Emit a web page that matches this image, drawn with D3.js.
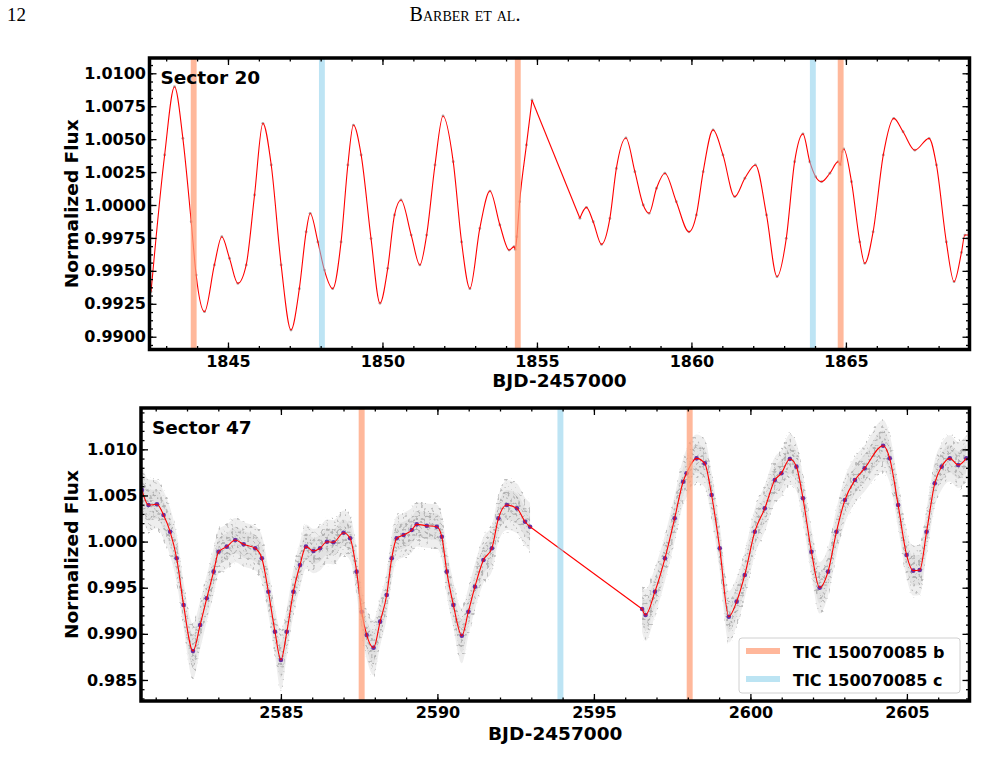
<!DOCTYPE html>
<html>
<head>
<meta charset="utf-8">
<script src="https://cdn.jsdelivr.net/npm/d3@7"></script>
<style>
  body { margin: 0; background: #fff; }
  svg { display: block; font-family: "DejaVu Sans", sans-serif; }
  .tick text { font-family: "DejaVu Sans", sans-serif; font-weight: bold; font-size: 16px; fill: #000; }
  .tick line { stroke: #000; stroke-width: 1.3; }
</style>
</head>
<body>
<div id="chart"></div>
<script>
// Sector 20 smoothed model (knots)
const s20Day = [1842.51, 1842.95, 1843.27, 1843.54, 1843.81, 1843.97, 1844.24, 1844.56, 1844.80, 1845.05,
    1845.32, 1845.59, 1845.86, 1846.13, 1846.40, 1846.72, 1847.04, 1847.31, 1847.53, 1847.66,
    1847.91, 1848.12, 1848.39, 1848.66, 1848.88, 1849.06, 1849.31, 1849.63, 1849.92, 1850.17,
    1850.39, 1850.60, 1850.93, 1851.21, 1851.43, 1851.70, 1851.96, 1852.29, 1852.56, 1852.83,
    1853.15, 1853.48, 1853.80, 1854.10, 1854.26, 1854.30, 1854.35, 1854.44, 1854.66, 1854.84,
    1856.39, 1856.60, 1856.82, 1857.09, 1857.36, 1857.57, 1857.88, 1858.17, 1858.44, 1858.63,
    1858.87, 1859.14, 1859.51, 1859.92, 1860.16, 1860.38, 1860.70, 1861.02, 1861.40, 1861.73,
    1862.07, 1862.43, 1862.77, 1863.07, 1863.34, 1863.61, 1863.83, 1864.02, 1864.21, 1864.48,
    1864.75, 1864.82, 1864.88, 1864.93, 1865.18, 1865.45, 1865.61, 1865.88, 1866.21, 1866.55,
    1866.85, 1867.23, 1867.69, 1867.93, 1868.25, 1868.50, 1868.74, 1868.85, 1869.06];
const s20Flux = [0.99342, 1.00380, 1.00898, 1.00506, 0.99873, 0.99468, 0.99190, 0.99545, 0.99759, 0.99595,
    0.99405, 0.99545, 1.00076, 1.00620, 1.00304, 0.99545, 0.99051, 0.99365, 0.99796, 0.99937,
    0.99720, 0.99506, 0.99365, 0.99720, 1.00304, 1.00607, 1.00380, 0.99745, 0.99254, 0.99519,
    0.99925, 1.00038, 0.99772, 0.99545, 0.99772, 1.00304, 1.00676, 1.00329, 0.99720, 0.99365,
    0.99822, 1.00106, 0.99848, 0.99658, 0.99684, 0.99663, 0.99759, 1.00025, 1.00456, 1.00797,
    0.99899, 0.99982, 0.99873, 0.99701, 0.99898, 1.00278, 1.00509, 1.00253, 1.00000, 0.99937,
    1.00127, 1.00241, 1.00025, 0.99796, 0.99925, 1.00253, 1.00570, 1.00380, 1.00063, 1.00203,
    1.00304, 0.99925, 0.99456, 0.99747, 1.00329, 1.00540, 1.00329, 1.00215, 1.00177, 1.00241,
    1.00329, 1.00304, 1.00405, 1.00425, 1.00177, 0.99720, 0.99557, 0.99796, 1.00380, 1.00658,
    1.00556, 1.00416, 1.00506, 1.00304, 0.99720, 0.99418, 0.99640, 0.99772, 0.99772];

// Sector 47 smoothed model, and half-width of the grey point cloud around it
const s47Day = [2580.56, 2580.77, 2581.04, 2581.25, 2581.46, 2581.67, 2581.89, 2582.19, 2582.42, 2582.63,
    2582.85, 2583.01, 2583.27, 2583.54, 2583.81, 2584.18, 2584.39, 2584.60, 2584.81, 2585.00,
    2585.19, 2585.40, 2585.61, 2585.80, 2586.04, 2586.25, 2586.47, 2586.68, 2587.00, 2587.21,
    2587.42, 2587.58, 2587.74, 2587.96, 2588.17, 2588.38, 2588.54, 2588.70, 2588.92, 2589.18,
    2589.34, 2589.66, 2589.98, 2590.14, 2590.30, 2590.51, 2590.78, 2590.99, 2591.20, 2591.47,
    2591.74, 2591.95, 2592.22, 2592.54, 2592.80, 2592.96,
    2596.54, 2596.65, 2596.95, 2597.27, 2597.58, 2597.85, 2597.96, 2598.28, 2598.54, 2598.76,
    2599.02, 2599.31, 2599.56, 2599.82, 2600.14, 2600.46, 2600.78, 2600.99, 2601.26, 2601.47,
    2601.68, 2601.95, 2602.21, 2602.48, 2602.75, 2603.02, 2603.34, 2603.65, 2604.24, 2604.45,
    2604.72, 2604.99, 2605.20, 2605.41, 2605.63, 2605.89, 2606.11, 2606.37, 2606.64, 2606.90];
const s47Flux = [1.00559, 1.00396, 1.00404, 1.00288, 1.00107, 0.99819, 0.99313, 0.98814, 0.99096, 0.99385,
    0.99674, 0.99890, 0.99945, 1.00017, 0.99970, 0.99927, 0.99819, 0.99457, 0.99023, 0.98717,
    0.99023, 0.99457, 0.99746, 0.99945, 0.99898, 0.99927, 0.99999, 0.99992, 1.00096, 1.00036,
    0.99674, 0.99240, 0.98988, 0.98850, 0.99132, 0.99421, 0.99819, 1.00036, 1.00071, 1.00125,
    1.00187, 1.00172, 1.00161, 1.00053, 0.99674, 0.99313, 0.98980, 0.99240, 0.99511, 0.99800,
    0.99927, 1.00252, 1.00396, 1.00360, 1.00215, 1.00161,
    0.99269, 0.99204, 0.99457, 0.99819, 1.00252, 1.00649, 1.00740, 1.00902, 1.00848, 1.00505,
    0.99927, 0.99186, 0.99349, 0.99638, 1.00107, 1.00360, 1.00667, 1.00740, 1.00895, 1.00812,
    1.00469, 0.99890, 0.99500, 0.99674, 1.00107, 1.00451, 1.00667, 1.00794, 1.01039, 1.00902,
    1.00396, 0.99855, 0.99685, 0.99692, 1.00107, 1.00632, 1.00812, 1.00902, 1.00830, 1.00902];
const s47Spread = [0.0028, 0.0028, 0.0026, 0.0026, 0.0026, 0.0026, 0.0025, 0.0030, 0.0026, 0.0025,
    0.0025, 0.0024, 0.0024, 0.0024, 0.0024, 0.0024, 0.0025, 0.0025, 0.0026, 0.0032,
    0.0026, 0.0025, 0.0025, 0.0024, 0.0024, 0.0024, 0.0024, 0.0024, 0.0024, 0.0024,
    0.0025, 0.0025, 0.0026, 0.0030, 0.0026, 0.0025, 0.0025, 0.0024, 0.0024, 0.0024,
    0.0024, 0.0024, 0.0024, 0.0024, 0.0025, 0.0025, 0.0030, 0.0026, 0.0025, 0.0025,
    0.0025, 0.0025, 0.0027, 0.0027, 0.0026, 0.0026,
    0.0025, 0.0028, 0.0026, 0.0025, 0.0025, 0.0025, 0.0026, 0.0026, 0.0026, 0.0025,
    0.0025, 0.0028, 0.0026, 0.0025, 0.0025, 0.0025, 0.0025, 0.0025, 0.0027, 0.0026,
    0.0025, 0.0025, 0.0028, 0.0026, 0.0025, 0.0025, 0.0025, 0.0025, 0.0028, 0.0026,
    0.0025, 0.0025, 0.0027, 0.0027, 0.0025, 0.0025, 0.0025, 0.0025, 0.0025, 0.0025];

// transit mid-times (BJD-2457000) and shaded width in days
const s20TransitB = [1843.89, 1854.38, 1864.83];
const s20TransitC = [1848.04, 1863.93];
const s47TransitB = [2587.58, 2598.06];
const s47TransitC = [2593.93];
const transitWidth = 0.19;

const s20XTicks = [1845, 1850, 1855, 1860, 1865];
const s20YTicks = [0.99, 0.9925, 0.995, 0.9975, 1.0, 1.0025, 1.005, 1.0075, 1.01];
const s47XTicks = [2585, 2590, 2595, 2600, 2605];
const s47YTicks = [0.985, 0.99, 0.995, 1.0, 1.005, 1.01];

const legendNames = ["TIC 150070085 b", "TIC 150070085 c"];
const colorB = "#ffa07a", colorC = "#87ceeb";

const W = 982, H = 770;
const svg = d3.select("#chart").append("svg").attr("width", W).attr("height", H);
const defs = svg.append("defs");

// speckle texture used to render the dense grey point cloud
function speckle(id, cut, seed, grey) {
    const f = defs.append("filter").attr("id", id)
        .attr("filterUnits", "userSpaceOnUse")
        .attr("color-interpolation-filters", "sRGB")
        .attr("x", 0).attr("y", 0).attr("width", W).attr("height", H);
    f.append("feTurbulence").attr("type", "fractalNoise").attr("baseFrequency", 0.38)
        .attr("numOctaves", 1).attr("seed", seed).attr("result", "noise");
    f.append("feColorMatrix").attr("in", "noise").attr("type", "matrix")
        .attr("values", `0 0 0 0 ${grey}  0 0 0 0 ${grey}  0 0 0 0 ${grey}  10 0 0 0 ${-cut}`)
        .attr("result", "dots");
    f.append("feComposite").attr("in", "dots").attr("in2", "SourceGraphic").attr("operator", "in");
}
speckle("speckOuter", 6.0, 3, 0.74);
speckle("speckInner", 5.6, 8, 0.7);

// header
svg.append("text").attr("x", 7).attr("y", 21)
    .style("font-family", "'Liberation Serif', serif").style("font-size", "19px").text("12");
svg.append("text").attr("x", 465).attr("y", 21).attr("text-anchor", "middle")
    .style("font-family", "'Liberation Serif', serif").style("font-size", "20px")
    .style("font-variant", "small-caps").text("Barber et al.");

function panel(opt) {
    const { id, box, xDomain, yDomain, day, flux, spread, xTicks, yTicks, yFmt,
            transB, transC, title, labelX, binned } = opt;
    const x = d3.scaleLinear().domain(xDomain).range([box.x0, box.x1]);
    const y = d3.scaleLinear().domain(yDomain).range([box.y1, box.y0]);
    const g = svg.append("g");

    defs.append("clipPath").attr("id", "clip" + id).append("rect")
        .attr("x", box.x0).attr("y", box.y0).attr("width", box.x1 - box.x0).attr("height", box.y1 - box.y0);
    const plot = g.append("g").attr("clip-path", `url(#clip${id})`);

    const pts = day.map((d, i) => ({ d: d, f: flux[i], s: spread ? spread[i] : 0 }));
    // split into observing segments at the mid-sector gap
    const segs = [[]];
    pts.forEach((p, i) => {
        if (i > 0 && p.d - pts[i - 1].d > 1) segs.push([]);
        segs[segs.length - 1].push(p);
    });

    if (spread) {
        const band = k => d3.area().curve(d3.curveMonotoneX)
            .x(p => x(p.d)).y0(p => y(p.f - p.s * k)).y1(p => y(p.f + p.s * k));
        segs.forEach(seg => {
            plot.append("path").attr("d", band(1.0)(seg)).attr("fill", "#eeeeee");
            plot.append("path").attr("d", band(0.6)(seg)).attr("fill", "#e2e2e2");
            plot.append("path").attr("d", band(1.1)(seg)).attr("fill", "#000").attr("filter", "url(#speckOuter)");
            plot.append("path").attr("d", band(0.6)(seg)).attr("fill", "#000").attr("filter", "url(#speckInner)");
        });
    }

    // grey / binned points at the model knots
    plot.selectAll(".raw").data(pts).enter().append("circle")
        .attr("cx", p => x(p.d)).attr("cy", p => y(p.f)).attr("r", 1.4)
        .attr("fill", "#999").attr("opacity", 0.8);
    if (binned) {
        plot.selectAll(".bin").data(pts).enter().append("circle")
            .attr("cx", p => x(p.d)).attr("cy", p => y(p.f)).attr("r", 2.3)
            .attr("fill", "#6631a3");
    }

    const line = d3.line().curve(d3.curveMonotoneX).x(p => x(p.d)).y(p => y(p.f));
    segs.forEach(seg => {
        plot.append("path").attr("d", line(seg)).attr("fill", "none")
            .attr("stroke", "#f00").attr("stroke-width", 1.1);
    });
    for (let i = 1; i < segs.length; i++) {
        const a = segs[i - 1][segs[i - 1].length - 1], b = segs[i][0];
        plot.append("path").attr("d", d3.line().x(p => x(p.d)).y(p => y(p.f))([a, b]))
            .attr("fill", "none").attr("stroke", "#f00").attr("stroke-width", 1.1);
    }

    // transit shading
    const shade = (list, color, op) => plot.selectAll(null).data(list).enter().append("rect")
        .attr("x", t => x(t - transitWidth / 2)).attr("width", t => x(t + transitWidth / 2) - x(t - transitWidth / 2))
        .attr("y", box.y0).attr("height", box.y1 - box.y0)
        .attr("fill", color).attr("opacity", op);
    shade(transB, colorB, 0.75);
    shade(transC, colorC, 0.55);

    // axes, ticks inward on all sides
    const xMinor = d3.range(Math.ceil(xDomain[0]), xDomain[1], 1);
    const yStep = yTicks[1] - yTicks[0];
    const yMinorStep = Math.abs(yStep - 0.0025) < 1e-9 ? yStep / 4 : yStep / 5;
    const yMinor = d3.range(Math.ceil(yDomain[0] / yMinorStep) * yMinorStep, yDomain[1], yMinorStep);

    const addAxis = (axis, tf, ticks, size, labels, fmt, pad) => {
        const a = axis.tickValues(ticks).tickSize(-size).tickPadding(pad || 3)
            .tickFormat(labels ? fmt : "");
        const gg = g.append("g").attr("transform", tf).call(a);
        gg.select(".domain").remove();
        return gg;
    };
    const bottomT = `translate(0,${box.y1})`, topT = `translate(0,${box.y0})`;
    const leftT = `translate(${box.x0},0)`, rightT = `translate(${box.x1},0)`;
    addAxis(d3.axisBottom(x), bottomT, xMinor, 3.5, false);
    addAxis(d3.axisTop(x), topT, xMinor, 3.5, false);
    addAxis(d3.axisBottom(x), bottomT, xTicks, 7, true, d3.format("d"), 6);
    addAxis(d3.axisTop(x), topT, xTicks, 7, false);
    addAxis(d3.axisLeft(y), leftT, yMinor, 3.5, false);
    addAxis(d3.axisRight(y), rightT, yMinor, 3.5, false);
    addAxis(d3.axisLeft(y), leftT, yTicks, 7, true, d3.format(yFmt), 3.5);
    addAxis(d3.axisRight(y), rightT, yTicks, 7, false);

    g.append("rect").attr("x", box.x0).attr("y", box.y0)
        .attr("width", box.x1 - box.x0).attr("height", box.y1 - box.y0)
        .attr("fill", "none").attr("stroke", "#000").attr("stroke-width", 3.5);

    g.append("text").attr("x", box.x0 + 11).attr("y", box.y0 + 26)
        .style("font-weight", "bold").style("font-size", "18.5px").text(title);

    g.append("text").attr("transform", `translate(78,${(box.y0 + box.y1) / 2}) rotate(-90)`)
        .attr("text-anchor", "middle").style("font-weight", "bold").style("font-size", "18.5px")
        .text("Normalized Flux");
    g.append("text").attr("x", (box.x0 + box.x1) / 2).attr("y", labelX)
        .attr("text-anchor", "middle").style("font-weight", "bold").style("font-size", "18.5px")
        .text("BJD-2457000");
    return g;
}

panel({
    id: "20", box: { x0: 149.5, x1: 969.5, y0: 58, y1: 349.5 },
    xDomain: [1842.46, 1869.0], yDomain: [0.98903, 1.01116],
    day: s20Day, flux: s20Flux, spread: null,
    xTicks: s20XTicks, yTicks: s20YTicks, yFmt: ".4f",
    transB: s20TransitB, transC: s20TransitC, title: "Sector 20", labelX: 387, binned: false
});

const p47 = panel({
    id: "47", box: { x0: 141, x1: 969.5, y0: 408, y1: 701 },
    xDomain: [2580.53, 2607.0], yDomain: [0.98272, 1.01448],
    day: s47Day, flux: s47Flux, spread: s47Spread,
    xTicks: s47XTicks, yTicks: s47YTicks, yFmt: ".3f",
    transB: s47TransitB, transC: s47TransitC, title: "Sector 47", labelX: 740, binned: true
});

// legend
const leg = p47.append("g").attr("transform", "translate(739,638)");
leg.append("rect").attr("width", 221).attr("height", 55).attr("rx", 3)
    .attr("fill", "#fff").attr("fill-opacity", 0.85).attr("stroke", "#d0d0d0");
[colorB, colorC].forEach((c, i) => {
    leg.append("line").attr("x1", 7).attr("x2", 41).attr("y1", 13 + i * 28).attr("y2", 13 + i * 28)
        .attr("stroke", c).attr("stroke-width", 6).attr("opacity", i === 0 ? 0.75 : 0.55);
    leg.append("text").attr("x", 54).attr("y", 19.5 + i * 28)
        .style("font-weight", "bold").style("font-size", "16px").text(legendNames[i]);
});
</script>
</body>
</html>
